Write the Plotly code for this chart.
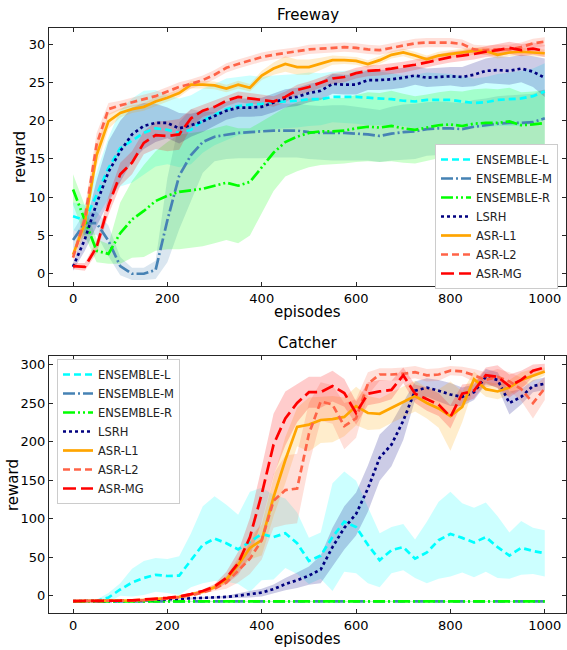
import plotly.graph_objects as go
import numpy as np

EPISODES = [0, 25, 50, 75, 100, 125, 150, 175, 200, 225, 250, 275, 300, 325, 350, 375, 400, 425, 450, 475,
            500, 525, 550, 575, 600, 625, 650, 675, 700, 725, 750, 775, 800, 825, 850, 875, 900, 925, 950, 975, 1000]

SERIES = ["ENSEMBLE-L", "ENSEMBLE-M", "ENSEMBLE-R", "LSRH", "ASR-L1", "ASR-L2", "ASR-MG"]

# ---------------- Freeway (means) ----------------
fw_ens_l = [7.5, 7.0, 10.3, 13.8, 16.4, 17.4, 18.4, 19.0, 18.8, 18.4, 18.8, 20.0, 20.8, 21.5, 21.9, 22.1, 22.2, 22.4, 22.5, 22.6,
            22.8, 22.8, 23.1, 23.1, 23.1, 23.0, 22.9, 22.8, 22.6, 22.5, 22.7, 22.7, 22.7, 22.5, 22.3, 22.4, 22.7, 22.8, 22.9, 23.2, 23.8]
fw_ens_m = [4.4, 6.6, 6.6, 4.3, 1.0, 0.0, 0.0, 0.5, 7.0, 12.8, 15.5, 17.2, 17.9, 18.2, 18.4, 18.5, 18.6, 18.7, 18.7, 18.7,
            18.5, 18.4, 18.4, 18.4, 18.3, 18.2, 18.0, 18.3, 18.5, 18.6, 18.9, 19.0, 19.0, 18.9, 19.2, 19.4, 19.6, 19.7, 19.7, 19.8, 20.3]
fw_ens_r = [11.0, 6.9, 3.0, 2.6, 5.3, 7.1, 8.2, 9.5, 10.2, 10.7, 10.9, 11.1, 11.5, 11.9, 11.5, 12.0, 13.9, 15.8, 17.2, 17.9,
            18.4, 18.6, 18.6, 18.7, 19.0, 19.2, 19.1, 19.3, 19.0, 18.8, 19.1, 19.4, 19.5, 19.3, 19.6, 19.7, 19.7, 19.9, 19.4, 19.5, 19.7]
fw_lsrh = [0.9, 4.5, 9.2, 13.3, 16.0, 18.2, 19.3, 19.7, 19.7, 19.0, 19.4, 19.9, 20.6, 21.3, 21.7, 21.7, 21.8, 22.3, 22.9, 23.1,
           23.6, 23.9, 24.8, 24.7, 24.7, 25.3, 25.3, 25.4, 25.6, 25.9, 25.6, 25.7, 25.8, 25.7, 26.0, 26.5, 26.6, 26.5, 26.8, 26.4, 25.6]
fw_asr_l1 = [2.5, 6.6, 15.5, 19.9, 21.0, 21.5, 21.8, 22.5, 23.0, 23.6, 24.7, 24.7, 24.6, 24.2, 24.7, 24.3, 25.9, 26.8, 27.4, 27.0,
             27.0, 27.4, 27.9, 27.9, 27.8, 27.4, 27.9, 28.6, 28.9, 28.5, 28.0, 28.5, 28.7, 28.9, 29.1, 29.1, 28.6, 28.9, 29.0, 28.9, 28.8]
fw_asr_l2 = [2.1, 7.2, 16.9, 21.5, 22.0, 22.4, 22.7, 23.2, 23.8, 24.4, 24.8, 25.3, 26.0, 26.9, 27.4, 27.9, 28.3, 28.6, 28.8, 29.0,
             29.3, 29.4, 29.5, 29.6, 29.5, 29.3, 29.2, 29.5, 29.8, 30.1, 30.2, 30.2, 30.2, 30.0, 29.3, 29.2, 29.3, 29.3, 29.6, 30.1, 30.3]
fw_asr_mg = [1.0, 0.9, 3.5, 8.9, 13.0, 14.5, 17.1, 18.1, 18.0, 18.2, 20.3, 21.3, 21.8, 22.6, 23.1, 22.9, 22.7, 22.5, 23.1, 24.0,
             24.4, 25.0, 25.5, 25.7, 26.2, 26.5, 26.6, 26.8, 27.0, 27.3, 27.6, 28.0, 28.3, 28.5, 28.7, 29.0, 29.2, 29.5, 29.2, 29.4, 29.1]

# ---------------- Freeway (band half-widths) ----------------
fw_ens_l_sd = [1.8, 2.0, 3.0, 4.0, 5.0, 5.5, 5.5, 5.0, 4.5, 4.5, 4.5, 4.2, 4.0, 4.0, 3.8, 3.8, 3.5, 3.5, 3.5, 3.5,
               3.5, 3.4, 3.3, 3.4, 3.5, 3.6, 3.5, 3.4, 3.3, 3.5, 3.6, 3.5, 3.4, 3.3, 3.2, 3.3, 3.4, 3.5, 3.6, 3.6, 3.7]
fw_ens_m_sd = [1.2, 1.5, 1.5, 2.0, 1.2, 0.8, 0.8, 1.2, 5.5, 7.0, 6.0, 4.0, 3.2, 3.2, 3.3, 3.4, 3.5, 3.5, 3.5, 3.5,
               3.5, 3.5, 3.6, 3.6, 3.5, 3.4, 3.4, 3.5, 3.6, 3.6, 3.5, 3.5, 3.4, 3.4, 3.5, 3.5, 3.6, 3.6, 3.7, 3.7, 3.8]
fw_ens_r_sd = [2.0, 2.0, 1.5, 1.3, 4.0, 5.0, 6.0, 6.5, 7.0, 7.5, 7.5, 7.5, 7.5, 7.5, 7.5, 7.0, 6.0, 5.0, 4.5, 4.5,
               4.5, 4.4, 4.3, 4.3, 4.4, 4.5, 4.5, 4.6, 4.5, 4.4, 4.3, 4.3, 4.4, 4.5, 4.5, 4.5, 4.4, 4.4, 4.3, 4.3, 4.3]
fw_lsrh_sd = [0.5, 1.5, 3.0, 4.0, 4.0, 3.5, 3.0, 2.5, 2.0, 2.0, 1.5, 1.4, 1.3, 1.2, 1.2, 1.2, 1.2, 1.2, 1.2, 1.2,
              1.2, 1.2, 1.3, 1.3, 1.3, 1.3, 1.3, 1.3, 1.3, 1.2, 1.2, 1.2, 1.2, 1.3, 1.5, 1.6, 1.8, 1.8, 1.8, 2.0, 2.5]
fw_asr_l1_sd = [0.5, 1.5, 1.5, 1.0, 0.6, 0.5, 0.5, 0.5, 0.5, 0.5, 0.5, 0.5, 0.5, 0.5, 0.5, 0.5, 0.6, 0.8, 1.0, 1.0,
                1.0, 0.8, 0.6, 0.5, 0.5, 0.5, 0.5, 0.5, 0.5, 0.5, 0.5, 0.5, 0.5, 0.5, 0.5, 0.5, 0.5, 0.5, 0.5, 0.5, 0.5]
fw_asr_l2_sd = [0.5, 1.5, 1.5, 0.8, 0.6, 0.6, 0.6, 0.6, 0.6, 0.6, 0.6, 0.6, 0.6, 0.6, 0.6, 0.6, 0.6, 0.6, 0.6, 0.6,
                0.6, 0.6, 0.6, 0.6, 0.6, 0.6, 0.6, 0.6, 0.6, 0.6, 0.6, 0.6, 0.6, 0.6, 0.6, 0.6, 0.6, 0.6, 0.6, 0.6, 0.6]
fw_asr_mg_sd = [0.4, 0.5, 0.8, 1.2, 1.5, 1.5, 1.5, 1.8, 2.0, 2.0, 1.2, 0.8, 0.8, 0.7, 0.7, 0.7, 0.7, 0.7, 0.7, 0.7,
                0.7, 0.7, 0.7, 0.7, 0.7, 0.7, 0.7, 0.7, 0.7, 0.7, 0.7, 0.7, 0.7, 0.7, 0.7, 0.7, 0.8, 0.8, 0.8, 0.8, 0.8]

# ---------------- Catcher (means) ----------------
ca_ens_l = [-7.5, -7.5, -7.0, -2.5, 8.0, 17.0, 23.0, 27.0, 25.5, 26.0, 46.0, 66.0, 74.0, 68.0, 60.0, 70.0, 80.0, 76.0, 81.0, 68.0,
            45.0, 52.0, 76.0, 96.0, 89.0, 66.0, 46.0, 59.0, 63.0, 48.0, 56.0, 72.0, 80.0, 75.0, 69.0, 76.0, 63.0, 52.0, 62.0, 58.0, 55.0]
ca_ens_m = [-7.5, -7.5, -7.5, -7.5, -7.5, -7.5, -7.5, -7.5, -7.5, -7.5, -7.5, -7.5, -7.5, -7.5, -7.5, -7.5, -7.5, -7.5, -7.5, -7.5,
            -7.5, -7.5, -7.5, -7.5, -7.5, -7.5, -7.5, -7.5, -7.5, -7.5, -7.5, -7.5, -7.5, -7.5, -7.5, -7.5, -7.5, -7.5, -7.5, -7.5, -7.5]
ca_ens_r = [-7.5, -7.5, -7.5, -7.5, -7.5, -7.5, -7.5, -7.5, -7.5, -7.5, -7.5, -7.5, -7.5, -7.5, -7.5, -7.5, -7.5, -7.5, -7.5, -7.5,
            -7.5, -7.5, -7.5, -7.5, -7.5, -7.5, -7.5, -7.5, -7.5, -7.5, -7.5, -7.5, -7.5, -7.5, -7.5, -7.5, -7.5, -7.5, -7.5, -7.5, -7.5]
ca_lsrh = [-7.0, -7.0, -7.0, -6.9, -6.8, -6.5, -6.0, -5.4, -4.9, -4.4, -3.9, -3.3, -2.7, -1.6, 0.0, 1.7, 4.0, 8.5, 15.0, 20.0,
           26.0, 34.0, 63.0, 88.0, 106.0, 139.0, 179.0, 196.0, 227.0, 266.0, 270.0, 266.0, 261.0, 258.0, 264.0, 284.0, 280.0, 250.0, 258.0, 272.0, 275.0]
ca_asr_l1 = [-7.0, -7.0, -7.0, -6.9, -6.6, -6.2, -5.5, -4.5, -3.2, -1.5, 1.5, 5.0, 11.0, 21.0, 40.0, 62.0, 72.0, 128.0, 176.0, 219.0,
             222.0, 228.0, 229.0, 232.0, 246.0, 237.0, 236.0, 244.0, 252.0, 259.0, 250.0, 243.0, 233.0, 245.0, 281.0, 268.0, 265.0, 270.0, 280.0, 286.0, 291.0]
ca_asr_l2 = [-7.0, -7.0, -7.0, -6.9, -6.7, -6.3, -5.7, -4.8, -3.5, -2.0, 0.5, 4.0, 9.0, 17.0, 32.0, 48.0, 72.0, 123.0, 137.0, 139.0,
             210.0, 252.0, 248.0, 220.0, 230.0, 275.0, 287.0, 287.0, 288.0, 290.0, 286.0, 287.0, 292.0, 291.0, 286.0, 280.0, 284.0, 278.0, 268.0, 250.0, 269.0]
ca_asr_mg = [-7.0, -7.0, -7.0, -6.8, -6.5, -6.0, -5.2, -4.2, -2.8, -1.0, 2.0, 6.0, 12.0, 23.0, 42.0, 76.0, 132.0, 196.0, 230.0, 250.0,
             264.0, 264.0, 272.0, 263.0, 237.0, 262.0, 265.0, 267.0, 286.0, 262.0, 255.0, 248.0, 232.0, 262.0, 266.0, 286.0, 284.0, 272.0, 280.0, 292.0, 296.0]

# ---------------- Catcher (band half-widths) ----------------
ca_ens_l_sd = [0.5, 0.5, 2.0, 6.0, 8.0, 18.0, 22.0, 22.0, 22.0, 25.0, 35.0, 50.0, 55.0, 50.0, 45.0, 65.0, 60.0, 55.0, 45.0, 40.0,
               30.0, 30.0, 70.0, 65.0, 60.0, 50.0, 35.0, 30.0, 30.0, 25.0, 40.0, 50.0, 55.0, 45.0, 45.0, 45.0, 40.0, 30.0, 35.0, 30.0, 30.0]
ca_ens_m_sd = [0.5, 0.5, 0.5, 0.5, 0.5, 0.5, 0.5, 0.5, 0.5, 0.5, 0.5, 0.5, 0.5, 0.5, 0.5, 0.5, 0.5, 0.5, 0.5, 0.5,
               0.5, 0.5, 0.5, 0.5, 0.5, 0.5, 0.5, 0.5, 0.5, 0.5, 0.5, 0.5, 0.5, 0.5, 0.5, 0.5, 0.5, 0.5, 0.5, 0.5, 0.5]
ca_ens_r_sd = [0.5, 0.5, 0.5, 0.5, 0.5, 0.5, 0.5, 0.5, 0.5, 0.5, 0.5, 0.5, 0.5, 0.5, 0.5, 0.5, 0.5, 0.5, 0.5, 0.5,
               0.5, 0.5, 0.5, 0.5, 0.5, 0.5, 0.5, 0.5, 0.5, 0.5, 0.5, 0.5, 0.5, 0.5, 0.5, 0.5, 0.5, 0.5, 0.5, 0.5, 0.5]
ca_lsrh_sd = [0.5, 0.5, 0.5, 0.5, 0.5, 0.6, 0.7, 0.8, 0.9, 1.0, 1.0, 1.0, 1.0, 1.5, 3.0, 4.0, 5.0, 6.0, 8.0, 10.0,
              12.0, 18.0, 25.0, 28.0, 28.0, 30.0, 30.0, 28.0, 25.0, 12.0, 12.0, 14.0, 15.0, 12.0, 10.0, 10.0, 10.0, 15.0, 10.0, 8.0, 8.0]
ca_asr_l1_sd = [0.5, 0.5, 0.5, 0.5, 0.5, 0.5, 0.6, 0.7, 0.8, 1.0, 1.5, 2.0, 3.0, 5.0, 10.0, 15.0, 20.0, 25.0, 30.0, 25.0,
                35.0, 30.0, 30.0, 25.0, 25.0, 22.0, 20.0, 20.0, 20.0, 20.0, 20.0, 25.0, 45.0, 20.0, 10.0, 10.0, 10.0, 10.0, 10.0, 8.0, 5.0]
ca_asr_l2_sd = [0.5, 0.5, 0.5, 0.5, 0.5, 0.5, 0.6, 0.7, 0.8, 1.0, 1.5, 2.0, 3.0, 8.0, 15.0, 20.0, 25.0, 35.0, 45.0, 45.0,
                40.0, 25.0, 25.0, 30.0, 25.0, 15.0, 8.0, 8.0, 8.0, 8.0, 8.0, 8.0, 6.0, 6.0, 8.0, 10.0, 10.0, 12.0, 15.0, 20.0, 15.0]
ca_asr_mg_sd = [0.5, 0.5, 0.5, 0.5, 0.5, 0.5, 0.6, 0.7, 0.8, 1.0, 1.5, 2.0, 3.0, 8.0, 15.0, 25.0, 35.0, 40.0, 35.0, 25.0,
                20.0, 20.0, 20.0, 18.0, 15.0, 15.0, 15.0, 12.0, 10.0, 12.0, 15.0, 15.0, 15.0, 12.0, 10.0, 10.0, 15.0, 15.0, 12.0, 8.0, 5.0]

X_TICKS = [0, 200, 400, 600, 800, 1000]
FW_Y_TICKS = [0, 5, 10, 15, 20, 25, 30]
CA_Y_TICKS = [0, 50, 100, 150, 200, 250, 300]

COLORS = {"ENSEMBLE-L": (0, 255, 255), "ENSEMBLE-M": (70, 130, 180), "ENSEMBLE-R": (0, 255, 0),
          "LSRH": (0, 0, 128), "ASR-L1": (255, 165, 0), "ASR-L2": (255, 99, 71), "ASR-MG": (255, 0, 0)}
DASHES = {"ENSEMBLE-L": "7px,4px", "ENSEMBLE-M": "12px,3px,2px,3px", "ENSEMBLE-R": "12px,3px,2px,3px,2px,3px",
          "LSRH": "3px,3px", "ASR-L1": "solid", "ASR-L2": "7px,4px", "ASR-MG": "13px,5px"}

freeway = {"ENSEMBLE-L": (fw_ens_l, fw_ens_l_sd), "ENSEMBLE-M": (fw_ens_m, fw_ens_m_sd),
           "ENSEMBLE-R": (fw_ens_r, fw_ens_r_sd), "LSRH": (fw_lsrh, fw_lsrh_sd),
           "ASR-L1": (fw_asr_l1, fw_asr_l1_sd), "ASR-L2": (fw_asr_l2, fw_asr_l2_sd),
           "ASR-MG": (fw_asr_mg, fw_asr_mg_sd)}
catcher = {"ENSEMBLE-L": (ca_ens_l, ca_ens_l_sd), "ENSEMBLE-M": (ca_ens_m, ca_ens_m_sd),
           "ENSEMBLE-R": (ca_ens_r, ca_ens_r_sd), "LSRH": (ca_lsrh, ca_lsrh_sd),
           "ASR-L1": (ca_asr_l1, ca_asr_l1_sd), "ASR-L2": (ca_asr_l2, ca_asr_l2_sd),
           "ASR-MG": (ca_asr_mg, ca_asr_mg_sd)}

FONT = "DejaVu Sans"
fig = go.Figure()
ep = np.array(EPISODES, dtype=float)

for data, xa, ya, leg in [(freeway, "x", "y", "legend"), (catcher, "x2", "y2", "legend2")]:
    for name in SERIES:
        m, s = np.array(data[name][0]), np.array(data[name][1])
        r, g, b = COLORS[name]
        fig.add_trace(go.Scatter(
            x=np.concatenate([ep, ep[::-1]]), y=np.concatenate([m + s, (m - s)[::-1]]),
            fill="toself", fillcolor=f"rgba({r},{g},{b},0.2)", line=dict(width=0),
            mode="lines", hoverinfo="skip", showlegend=False, xaxis=xa, yaxis=ya))
    for name in SERIES:
        m = data[name][0]
        r, g, b = COLORS[name]
        fig.add_trace(go.Scatter(
            x=EPISODES, y=m, mode="lines", name=name,
            line=dict(color=f"rgb({r},{g},{b})", width=2.7, dash=DASHES[name]),
            xaxis=xa, yaxis=ya, legend=leg, showlegend=True))

axis_common = dict(showgrid=False, zeroline=False, showline=True, linecolor="#262626", linewidth=1.2,
                   mirror="ticks", ticks="inside", ticklen=4, tickwidth=1, tickcolor="#262626",
                   automargin=False,
                   tickfont=dict(family=FONT, size=13, color="black"))

# layout geometry (pixels)
W, H = 567, 650
ML, MR, MT, MB = 49, 1, 28, 37
PH = H - MT - MB
PW = W - ML - MR
top_dom = [1 - (286 - MT) / PH, 1.0]
bot_dom = [0.0, 1 - (356 - MT) / PH]


def py(p):
    return 1 - (p - MT) / PH


def px(p):
    return (p - ML) / PW


legend_common = dict(bgcolor="white", bordercolor="#cccccc", borderwidth=1, xanchor="left", yanchor="top",
                     font=dict(family=FONT, size=11.5, color="#222"), itemwidth=30, tracegroupgap=0)

fig.update_layout(
    width=W, height=H, margin=dict(l=ML, r=MR, t=MT, b=MB, autoexpand=False),
    paper_bgcolor="white", plot_bgcolor="white",
    font=dict(family=FONT, color="black"),
    xaxis=dict(domain=[0, 1], range=[-51, 1045], tickvals=X_TICKS, anchor="y", **axis_common),
    yaxis=dict(domain=top_dom, range=[-1.6, 32.1], tickvals=FW_Y_TICKS, anchor="x", **axis_common),
    xaxis2=dict(domain=[0, 1], range=[-51, 1045], tickvals=X_TICKS, anchor="y2", **axis_common),
    yaxis2=dict(domain=bot_dom, range=[-22.5, 311], tickvals=CA_Y_TICKS, anchor="x2", **axis_common),
    legend=dict(x=px(435), y=py(144), **legend_common),
    legend2=dict(x=px(57), y=py(359), **legend_common),
    showlegend=True,
)

annos = [
    ("Freeway", 0.5, py(15), 0, 15),
    ("Catcher", 0.5, py(343), 0, 15),
    ("episodes", 0.5, py(312), 0, 15),
    ("episodes", 0.5, py(639), 0, 15),
    ("reward", px(20), py(157), -90, 15),
    ("reward", px(13), py(485), -90, 15),
]
for text, x, y, ang, size in annos:
    fig.add_annotation(text=text, x=x, y=y, xref="paper", yref="paper", showarrow=False,
                       textangle=ang, xanchor="center", yanchor="middle",
                       font=dict(family=FONT, size=size, color="black"))

fig.write_html("out.html", config={"displayModeBar": False},
               post_script="document.body.style.margin='0px';document.body.style.padding='0px';")
